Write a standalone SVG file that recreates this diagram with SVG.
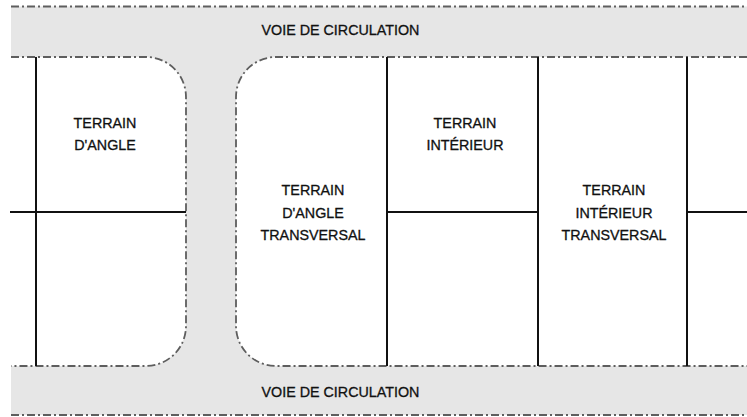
<svg xmlns="http://www.w3.org/2000/svg" width="747" height="417" viewBox="0 0 747 417">
<style>
.road{fill:#e6e6e6;stroke:none}
.edge{fill:none;stroke:#5e5e5e;stroke-width:1.8;stroke-dasharray:8 3 2 3}
.blk{fill:#fff;stroke:none}
.lot{fill:none;stroke:#111;stroke-width:2}
text{font-family:"Liberation Sans",Arial,sans-serif;font-size:14.3px;fill:#111;stroke:#111;stroke-width:0.3;text-anchor:middle}
</style>
<rect width="747" height="417" fill="#fff"/>
<g id="roads">
<rect class="road" x="11" y="6.5" width="736" height="408.5"/>
</g>
<g id="block-left">
<path class="blk" d="M0,57 H146 A40,40 0 0 1 186,97 V326 A40,40 0 0 1 146,366 H0 Z"/>
<path class="edge" d="M11,57 H146 A40,40 0 0 1 186,97 V326 A40,40 0 0 1 146,366 H11"/>
</g>
<g id="block-right">
<path class="blk" d="M747,57 H276 A40,40 0 0 0 236,97 V326 A40,40 0 0 0 276,366 H747 Z"/>
<path class="edge" d="M747,57 H276 A40,40 0 0 0 236,97 V326 A40,40 0 0 0 276,366 H747"/>
</g>
<g id="road-edges">
<line class="edge" x1="11" y1="6.5" x2="747" y2="6.5"/>
<line class="edge" x1="11" y1="415" x2="747" y2="415"/>
</g>
<g id="connectors">
<line class="lot" x1="36" y1="57" x2="36" y2="366"/>
<line class="lot" x1="387" y1="57" x2="387" y2="366"/>
<line class="lot" x1="538" y1="57" x2="538" y2="366"/>
<line class="lot" x1="687" y1="57" x2="687" y2="366"/>
<line class="lot" x1="10" y1="212" x2="186" y2="212"/>
<line class="lot" x1="387" y1="212" x2="538" y2="212"/>
<line class="lot" x1="687" y1="212" x2="747" y2="212"/>
</g>
<g id="road-top-label"><text x="340.5" y="35">VOIE DE CIRCULATION</text></g>
<g id="road-bottom-label"><text x="340.5" y="397">VOIE DE CIRCULATION</text></g>
<g id="terrain-angle"><text x="105" y="128">TERRAIN</text><text x="105" y="150">D'ANGLE</text></g>
<g id="terrain-angle-transversal"><text x="313" y="195">TERRAIN</text><text x="313" y="217.5">D'ANGLE</text><text x="313" y="240">TRANSVERSAL</text></g>
<g id="terrain-interieur"><text x="465" y="128">TERRAIN</text><text x="465" y="150">INTÉRIEUR</text></g>
<g id="terrain-interieur-transversal"><text x="614" y="195">TERRAIN</text><text x="614" y="217.5">INTÉRIEUR</text><text x="614" y="240">TRANSVERSAL</text></g>
</svg>
